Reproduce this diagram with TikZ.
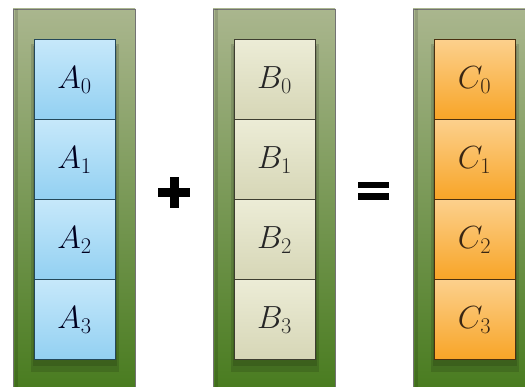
\RequirePackage{fix-cm}
\documentclass[tikz,border=0pt]{standalone}
\definecolor{coltop}{HTML}{AAB68E}
\definecolor{colbot}{HTML}{467A1C}
\definecolor{bluetop}{HTML}{C6E8FA}
\definecolor{bluebot}{HTML}{92D0F2}
\definecolor{bluedraw}{HTML}{24485A}
\definecolor{begtop}{HTML}{ECECD6}
\definecolor{begbot}{HTML}{D6D6B6}
\definecolor{begdraw}{HTML}{3E3E30}
\definecolor{ortop}{HTML}{FCD08C}
\definecolor{orbot}{HTML}{F8A426}
\definecolor{ordraw}{HTML}{4A3010}
\tikzset{
  x=1pt, y=-1pt,
  column/.style={top color=coltop, bottom color=colbot, draw=black!55, line width=0.8pt},
  cell/.style={minimum width=81pt, minimum height=80pt, inner sep=0pt, outer sep=0pt,
    line width=1pt, font=\fontsize{32}{34}\selectfont},
  acell/.style={cell, top color=bluetop, bottom color=bluebot, draw=bluedraw, text=black!80!blue!60!black},
  bcell/.style={cell, top color=begtop, bottom color=begbot, draw=begdraw, text=black!85},
  ccell/.style={cell, top color=ortop, bottom color=orbot, draw=ordraw, text=black!70!brown},
  cellshadow/.style={fill=black, opacity=0.13},
  opbar/.style={fill=black}
}
\begin{document}
\begin{tikzpicture}
\useasboundingbox (0,0) rectangle (525,387);
\fill[white] (0,0) rectangle (525,387);
% columns
\foreach \x in {13,213,413}{
  \shade[column] (\x,9) rectangle (\x+122,400);
  \fill[black, opacity=0.12] (\x+2,9.5) rectangle (\x+5,400);
  \fill[cellshadow] (\x+18,44) rectangle (\x+106,372);
  \fill[cellshadow] (\x+20,46) rectangle (\x+104,366);
}
% cells A
\node[acell] (a0) at (74.5,80)  {$A_0$};
\node[acell] (a1) at (74.5,160) {$A_1$};
\node[acell] (a2) at (74.5,240) {$A_2$};
\node[acell] (a3) at (74.5,320) {$A_3$};
% cells B
\node[bcell] (b0) at (274.5,80)  {$B_0$};
\node[bcell] (b1) at (274.5,160) {$B_1$};
\node[bcell] (b2) at (274.5,240) {$B_2$};
\node[bcell] (b3) at (274.5,320) {$B_3$};
% cells C
\node[ccell] (c0) at (474.5,80)  {$C_0$};
\node[ccell] (c1) at (474.5,160) {$C_1$};
\node[ccell] (c2) at (474.5,240) {$C_2$};
\node[ccell] (c3) at (474.5,320) {$C_3$};
% plus
\fill[opbar] (158,188) rectangle (190,197);
\fill[opbar] (169.5,177) rectangle (178.5,208);
% equals
\fill[opbar] (358,182) rectangle (389,188.5);
\fill[opbar] (358,193.5) rectangle (389,200);
\end{tikzpicture}
\end{document}
